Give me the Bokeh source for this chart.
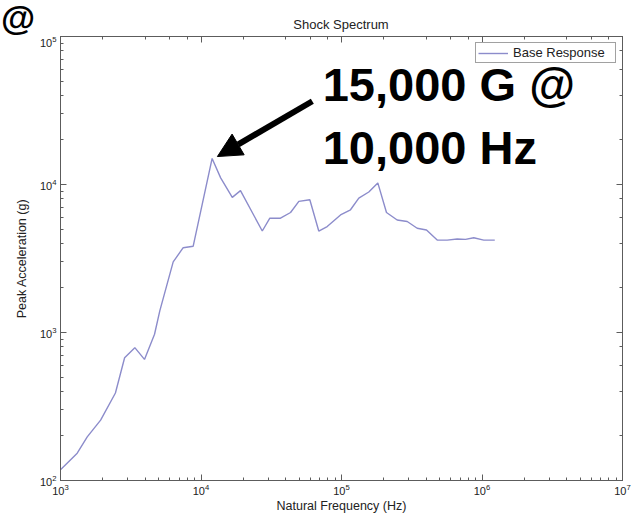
from bokeh.plotting import figure
from bokeh.layouts import column
from bokeh.models import (LogAxis, LogTicker, Label, Arrow, NormalHead, Legend,
                          LegendItem, CustomJSTickFormatter, Div)
from bokeh.embed import file_html
from bokeh.resources import INLINE

# Shock response spectrum of the base excitation
freq_hz = [1000, 1315, 1550, 1930, 2460, 2860, 3380, 3960, 4670, 5090, 6340,
           7470, 8800, 12000, 13800, 16700, 19100, 27300, 30900, 36800, 43400,
           49700, 59500, 68900, 79100, 98400, 115900, 132800, 156400, 181300,
           209000, 249000, 293500, 345700, 402700, 479900, 565300, 666000,
           763000, 874000, 1030000, 1233000]
peak_g = [118, 153, 197, 256, 390, 675, 790, 658, 973, 1400, 3000,
          3740, 3830, 15000, 11090, 8190, 9090, 4850, 5920, 5920, 6470,
          7690, 7890, 4850, 5200, 6230, 6750, 8100, 8900, 10250,
          6470, 5760, 5620, 5060, 4930, 4210, 4210, 4280,
          4260, 4370, 4210, 4210]

x_limits = (1e3, 1e7)
y_limits = (1e2, 1e5)

chart_title = "Shock Spectrum"
series_name = "Base Response"
callout_lines = ["15,000 G @", "10,000 Hz"]

FONT = "Liberation Sans"
AXIS_GREY = "#5c5c5c"
TEXT = "#222222"
LINE_COLOR = "#8c8ccb"

W = 638
BAND_H = 36
PLOT_H = 518 - BAND_H

# ---- header strip: slide fragment at the corner and the chart title ----
header_html = (
    f'<div style="position:relative;width:{W}px;height:{BAND_H}px;'
    f'font-family:\'{FONT}\';color:{TEXT};">'
    '<span style="position:absolute;left:1px;top:0px;font-size:35px;'
    'line-height:35px;font-weight:bold;color:black;">@</span>'
    '<span style="position:absolute;left:60px;width:562px;top:17px;'
    f'font-size:13px;line-height:16px;text-align:center;">{chart_title}</span>'
    '</div>'
)
header = Div(text=header_html, width=W, height=BAND_H, margin=0)

# ---- log-log spectrum plot ----
p = figure(width=W, height=PLOT_H, x_axis_type="log", y_axis_type="log",
           x_range=x_limits, y_range=y_limits, title_location=None,
           output_backend="svg", toolbar_location=None,
           min_border_left=60, min_border_right=16,
           min_border_top=0, min_border_bottom=38)

p.background_fill_color = "white"
p.border_fill_color = "white"
p.outline_line_color = AXIS_GREY
p.outline_line_width = 1
p.xgrid.visible = False
p.ygrid.visible = False

def style_axis(ax):
    ax.axis_line_color = AXIS_GREY
    ax.major_tick_line_color = AXIS_GREY
    ax.minor_tick_line_color = AXIS_GREY
    ax.major_tick_in = 6
    ax.major_tick_out = 0
    ax.minor_tick_in = 3
    ax.minor_tick_out = 0
    ax.major_label_text_font = FONT
    ax.major_label_text_font_size = "11px"
    ax.major_label_text_color = TEXT
    ax.axis_label_text_font = FONT
    ax.axis_label_text_font_size = "12.5px"
    ax.axis_label_text_font_style = "normal"
    ax.axis_label_text_color = TEXT

for ax in p.xaxis + p.yaxis:
    style_axis(ax)

p.xaxis.axis_label = "Natural Frequency (Hz)"
p.yaxis.axis_label = "Peak Acceleration (g)"
p.xaxis.major_label_standoff = 3
p.xaxis.axis_label_standoff = 1
p.yaxis.major_label_standoff = 4
p.yaxis.axis_label_standoff = 8

# Mirror ticks on the top and right edges of the box, without labels
blank = CustomJSTickFormatter(code="return ''")
top_ax = LogAxis(ticker=LogTicker(), formatter=blank, major_label_standoff=0)
right_ax = LogAxis(ticker=LogTicker(), formatter=blank, major_label_standoff=0)
for ax in (top_ax, right_ax):
    style_axis(ax)
    ax.major_label_text_font_size = "0px"
p.add_layout(top_ax, "above")
p.add_layout(right_ax, "right")

line = p.line(freq_hz, peak_g, line_color=LINE_COLOR, line_width=1.4)

legend = Legend(items=[LegendItem(label=series_name, renderers=[line])],
                location="top_right", margin=6, padding=2, spacing=0,
                glyph_width=30, glyph_height=12, label_height=12,
                label_width=100, label_standoff=5,
                label_text_font=FONT, label_text_font_size="13px",
                label_text_color=TEXT,
                border_line_color="#444444", border_line_width=1,
                background_fill_color="white", background_fill_alpha=1)
p.add_layout(legend)

# Callout pointing at the spectrum peak
i_peak = max(range(len(peak_g)), key=lambda i: peak_g[i])
px, py = freq_hz[i_peak], peak_g[i_peak]
p.add_layout(Arrow(end=NormalHead(size=24, fill_color="black", line_color="black"),
                   x_start=62000, y_start=36500,
                   x_end=px * 1.09, y_end=py * 1.03,
                   line_color="black", line_width=6))

for txt, ty in zip(callout_lines, (47700, 17700)):
    p.add_layout(Label(x=73500, y=ty, text=txt, text_font=FONT,
                       text_font_size="47px", text_font_style="bold",
                       text_color="black", text_align="left",
                       text_baseline="alphabetic"))

page = column(header, p, spacing=0)
open("out.html", "w").write(file_html(page, INLINE))
